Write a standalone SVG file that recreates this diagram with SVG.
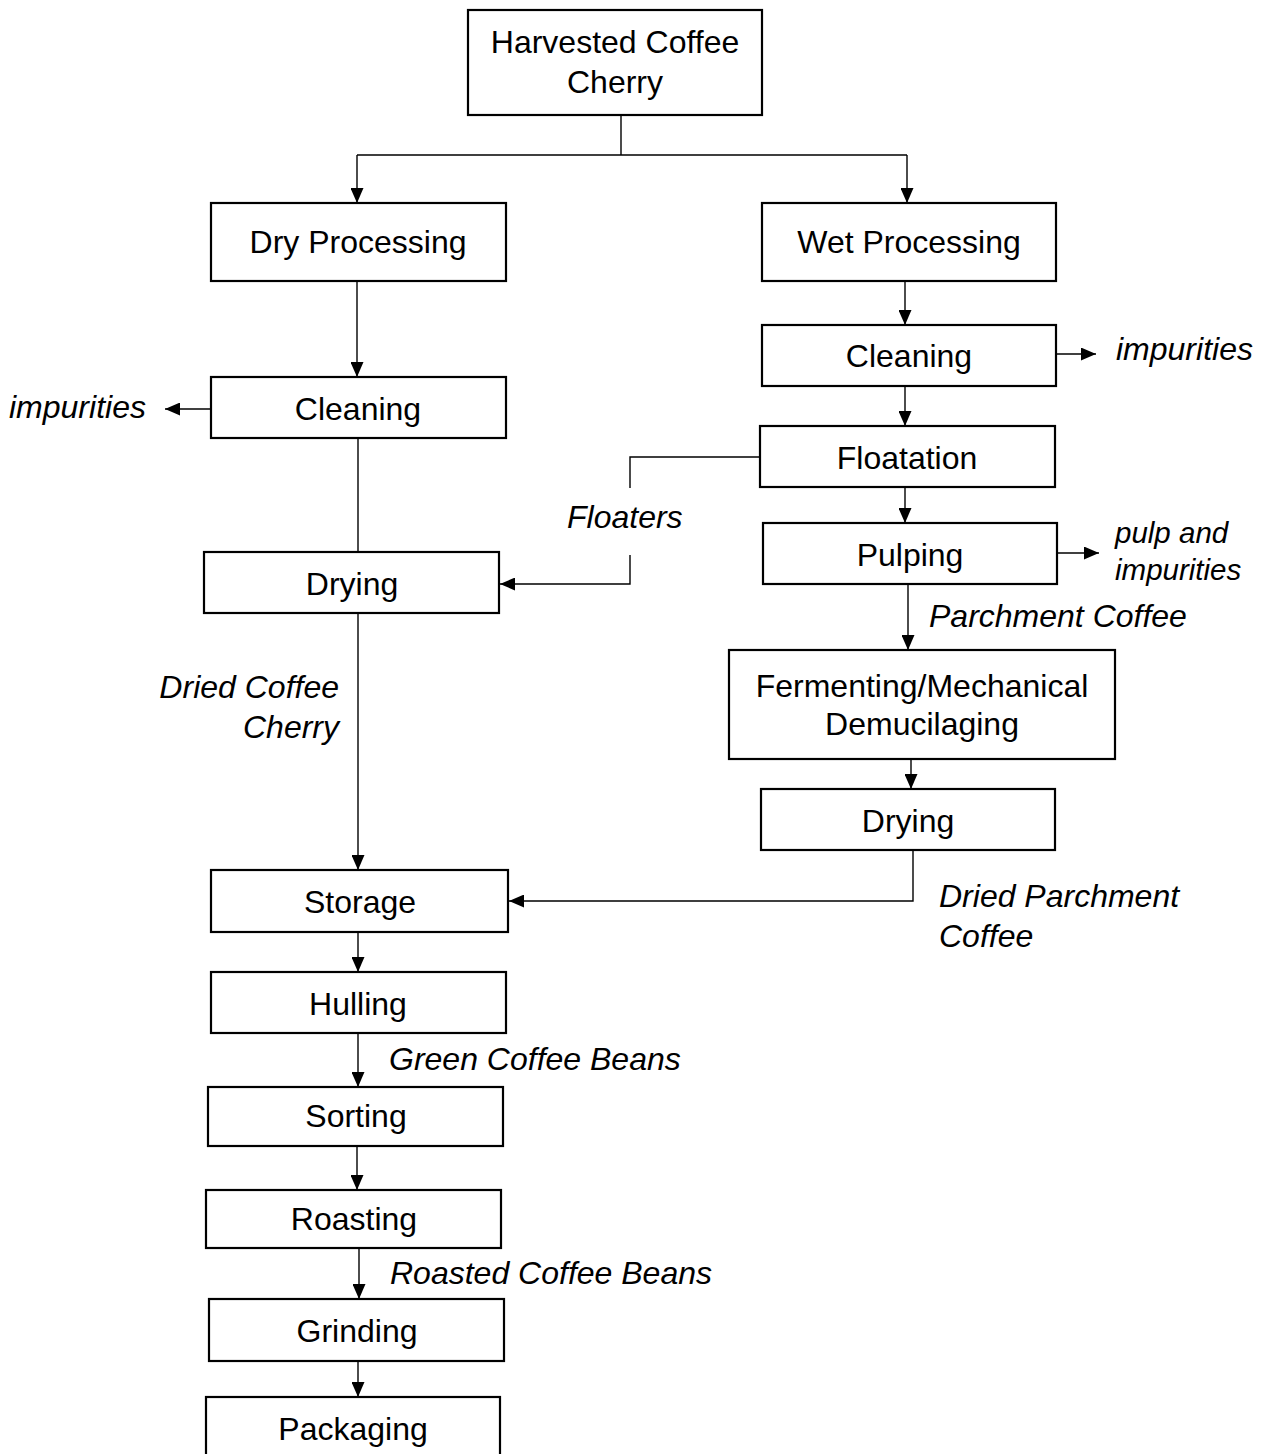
<svg xmlns="http://www.w3.org/2000/svg" width="1266" height="1454" viewBox="0 0 1266 1454">
<style>
.box{fill:#fff;stroke:#000;stroke-width:2.2}
.t{font-family:"Liberation Sans",Arial,sans-serif;font-size:32px;fill:#000;text-anchor:middle}
.l{font-family:"Liberation Sans",Arial,sans-serif;font-size:32px;font-style:italic;fill:#000}
.c{fill:none;stroke:#000;stroke-width:1.4}
</style>
<defs>
<marker id="ah" markerUnits="userSpaceOnUse" markerWidth="15" markerHeight="13" refX="15" refY="6.5" orient="auto">
<path d="M0,0 L15,6.5 L0,13 z" fill="#000"/>
</marker>
</defs>
<rect width="1266" height="1454" fill="#fff"/>
<g id="connectors">
<path class="c" d="M621,115 V155 M357,155 H907"/>
<path class="c" d="M357,155 V203" marker-end="url(#ah)"/>
<path class="c" d="M907,155 V203" marker-end="url(#ah)"/>
<path class="c" d="M357,281 V377" marker-end="url(#ah)"/>
<path class="c" d="M211,409 H165" marker-end="url(#ah)"/>
<path class="c" d="M358,438 V552"/>
<path class="c" d="M760,457 H630 V488"/>
<path class="c" d="M630,555 V584 H500" marker-end="url(#ah)"/>
<path class="c" d="M358,613 V870" marker-end="url(#ah)"/>
<path class="c" d="M913,850 V901 H509" marker-end="url(#ah)"/>
<path class="c" d="M358,932 V972" marker-end="url(#ah)"/>
<path class="c" d="M358,1033 V1087" marker-end="url(#ah)"/>
<path class="c" d="M357,1146 V1190" marker-end="url(#ah)"/>
<path class="c" d="M359,1248 V1299" marker-end="url(#ah)"/>
<path class="c" d="M358,1361 V1397" marker-end="url(#ah)"/>
<path class="c" d="M905,281 V325" marker-end="url(#ah)"/>
<path class="c" d="M1056,354 H1096" marker-end="url(#ah)"/>
<path class="c" d="M905,386 V426" marker-end="url(#ah)"/>
<path class="c" d="M905,487 V523" marker-end="url(#ah)"/>
<path class="c" d="M1057,553 H1099" marker-end="url(#ah)"/>
<path class="c" d="M908,584 V650" marker-end="url(#ah)"/>
<path class="c" d="M911,759 V789" marker-end="url(#ah)"/>
</g>
<g id="n-harvested"><rect class="box" x="468" y="10" width="294" height="105"/><text class="t" x="615" y="53">Harvested Coffee</text><text class="t" x="615" y="93">Cherry</text></g>
<g id="n-dry"><rect class="box" x="211" y="203" width="295" height="78"/><text class="t" x="358" y="253">Dry Processing</text></g>
<g id="n-clean-l"><rect class="box" x="211" y="377" width="295" height="61"/><text class="t" x="358" y="420">Cleaning</text></g>
<g id="n-dry-l"><rect class="box" x="204" y="552" width="295" height="61"/><text class="t" x="352" y="595">Drying</text></g>
<g id="n-storage"><rect class="box" x="211" y="870" width="297" height="62"/><text class="t" x="360" y="913">Storage</text></g>
<g id="n-hulling"><rect class="box" x="211" y="972" width="295" height="61"/><text class="t" x="358" y="1015">Hulling</text></g>
<g id="n-sorting"><rect class="box" x="208" y="1087" width="295" height="59"/><text class="t" x="356" y="1127">Sorting</text></g>
<g id="n-roasting"><rect class="box" x="206" y="1190" width="295" height="58"/><text class="t" x="354" y="1230">Roasting</text></g>
<g id="n-grinding"><rect class="box" x="209" y="1299" width="295" height="62"/><text class="t" x="357" y="1342">Grinding</text></g>
<g id="n-packaging"><rect class="box" x="206" y="1397" width="294" height="70"/><text class="t" x="353" y="1440">Packaging</text></g>
<g id="n-wet"><rect class="box" x="762" y="203" width="294" height="78"/><text class="t" x="909" y="253">Wet Processing</text></g>
<g id="n-clean-r"><rect class="box" x="762" y="325" width="294" height="61"/><text class="t" x="909" y="367">Cleaning</text></g>
<g id="n-float"><rect class="box" x="760" y="426" width="295" height="61"/><text class="t" x="907" y="469">Floatation</text></g>
<g id="n-pulp"><rect class="box" x="763" y="523" width="294" height="61"/><text class="t" x="910" y="566">Pulping</text></g>
<g id="n-ferment"><rect class="box" x="729" y="650" width="386" height="109"/><text class="t" x="922" y="697">Fermenting/Mechanical</text><text class="t" x="922" y="735">Demucilaging</text></g>
<g id="n-dry-r"><rect class="box" x="761" y="789" width="294" height="61"/><text class="t" x="908" y="832">Drying</text></g>
<g id="labels">
<text class="l" x="9" y="418">impurities</text>
<text class="l" x="1116" y="360">impurities</text>
<text class="l" x="567" y="528">Floaters</text>
<text class="l" x="1115" y="543" style="font-size:29.5px">pulp and</text>
<text class="l" x="1115" y="580" style="font-size:29.5px">impurities</text>
<text class="l" x="929" y="627">Parchment Coffee</text>
<text class="l" x="339" y="698" text-anchor="end">Dried Coffee</text>
<text class="l" x="339" y="738" text-anchor="end">Cherry</text>
<text class="l" x="939" y="907">Dried Parchment</text>
<text class="l" x="939" y="947">Coffee</text>
<text class="l" x="389" y="1070">Green Coffee Beans</text>
<text class="l" x="390" y="1284">Roasted Coffee Beans</text>
</g>
</svg>
